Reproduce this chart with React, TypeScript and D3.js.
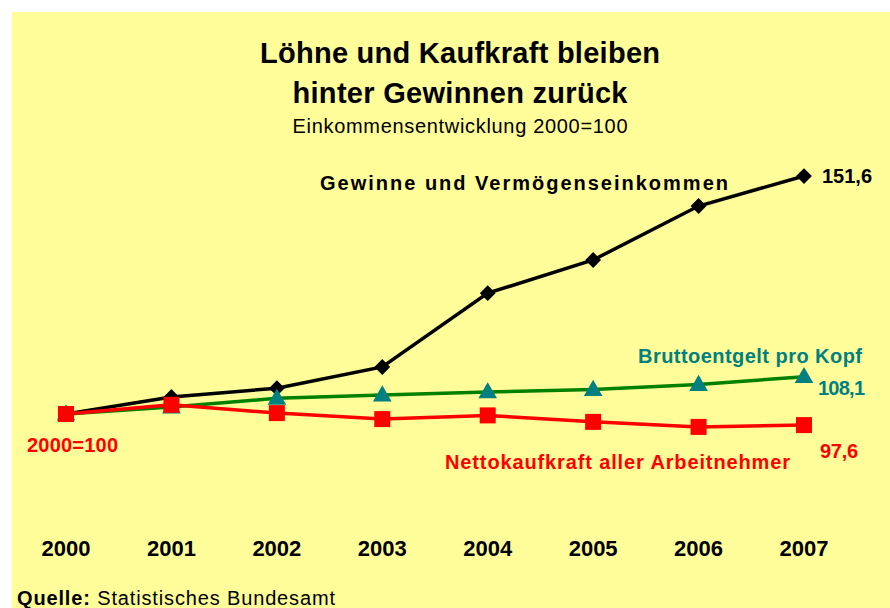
import React, { useEffect, useRef } from "react";
import * as d3 from "d3";

// Chart data (index 2000 = 100)
const years = ["2000", "2001", "2002", "2003", "2004", "2005", "2006", "2007"];
const gewinne = [100, 103.7, 105.6, 110.2, 126.2, 133.4, 145.1, 151.6];
const brutto = [100, 101.5, 103.4, 104.1, 104.8, 105.3, 106.4, 108.1];
const netto = [100, 102.0, 100.2, 98.9, 99.7, 98.3, 97.2, 97.6];

const W = 890;
const H = 608;
const FONT = "'Liberation Sans', Arial, Helvetica, sans-serif";

export default function App() {
  const svgRef = useRef<SVGSVGElement | null>(null);

  useEffect(() => {
    const svg = d3.select(svgRef.current).html("").attr("width", W).attr("height", H);

    // yellow panel
    svg.append("rect")
      .attr("x", 12).attr("y", 12)
      .attr("width", W - 12).attr("height", H - 12)
      .attr("fill", "#FFFD99");

    const xScale = d3.scalePoint<string>().domain(years).range([66, 804]);
    const yScale = d3.scaleLinear().domain([85, 160]).range([483.2, 137.3]);

    const line = d3.line<number>()
      .x((d, i) => xScale(years[i]) as number)
      .y((d) => yScale(d));

    // helper for texts, textLength keeps the wide spacing of the original
    const label = (txt: string, x: number, y: number, size: number, color: string, len?: number, anchor = "start", weight = "bold") => {
      const t = svg.append("text")
        .attr("x", x).attr("y", y)
        .attr("font-family", FONT)
        .attr("font-size", size)
        .attr("font-weight", weight)
        .attr("fill", color)
        .attr("text-anchor", anchor)
        .text(txt);
      if (len) t.attr("textLength", len).attr("lengthAdjust", "spacing");
      return t;
    };

    // title
    label("Löhne und Kaufkraft bleiben", 460, 63, 29, "#000", 400, "middle");
    label("hinter Gewinnen zurück", 460, 103, 29, "#000", 335, "middle");
    label("Einkommensentwicklung 2000=100", 460, 133, 20, "#000", 335, "middle", "normal");

    // series lines
    svg.append("path").datum(gewinne)
      .attr("d", line).attr("fill", "none").attr("stroke", "#000").attr("stroke-width", 3.5);
    svg.append("g").selectAll("path")
      .data(gewinne).enter().append("path")
      .attr("d", d3.symbol(d3.symbolSquare, 125)())
      .attr("transform", (d, i) => `translate(${xScale(years[i])},${yScale(d)}) rotate(45)`)
      .attr("fill", "#000");

    svg.append("path").datum(brutto)
      .attr("d", line).attr("fill", "none").attr("stroke", "#008000").attr("stroke-width", 3.5);
    svg.append("g").selectAll("path")
      .data(brutto).enter().append("path")
      .attr("d", d3.symbol(d3.symbolTriangle, 150)())
      .attr("transform", (d, i) => `translate(${xScale(years[i])},${yScale(d) + 1})`)
      .attr("fill", "#008080");

    svg.append("path").datum(netto)
      .attr("d", line).attr("fill", "none").attr("stroke", "#FF0000").attr("stroke-width", 3.5);
    svg.append("g").selectAll("rect")
      .data(netto).enter().append("rect")
      .attr("x", (d, i) => (xScale(years[i]) as number) - 8)
      .attr("y", (d) => yScale(d) - 8)
      .attr("width", 16).attr("height", 16)
      .attr("fill", "#FF0000");

    // series labels
    label("Gewinne und Vermögenseinkommen", 320, 190, 20, "#000", 408);
    label("151,6", 822, 183, 20, "#000", 50);
    label("Bruttoentgelt pro Kopf", 638, 363, 20, "#008080", 224);
    label("108,1", 818, 395, 20, "#008080", 47);
    label("Nettokaufkraft aller Arbeitnehmer", 445, 469, 20, "#FF0000", 345);
    label("97,6", 820, 458, 20, "#FF0000", 38);
    label("2000=100", 27, 452, 20, "#FF0000", 91);

    // x axis labels
    svg.append("g").selectAll("text")
      .data(years).enter().append("text")
      .attr("x", (d) => xScale(d) as number)
      .attr("y", 556)
      .attr("text-anchor", "middle")
      .attr("font-family", FONT)
      .attr("font-size", 22)
      .attr("font-weight", "bold")
      .text((d) => d);

    // source
    const src = svg.append("text")
      .attr("x", 17).attr("y", 605)
      .attr("font-family", FONT)
      .attr("font-size", 20)
      .attr("textLength", 318)
      .attr("lengthAdjust", "spacing");
    src.append("tspan").attr("font-weight", "bold").text("Quelle:");
    src.append("tspan").text(" Statistisches Bundesamt");
  }, []);

  return (
    <div style={{ position: "absolute", left: 0, top: 0, width: W, height: H, background: "#fff" }}>
      <svg ref={svgRef} style={{ display: "block" }}></svg>
    </div>
  );
}
